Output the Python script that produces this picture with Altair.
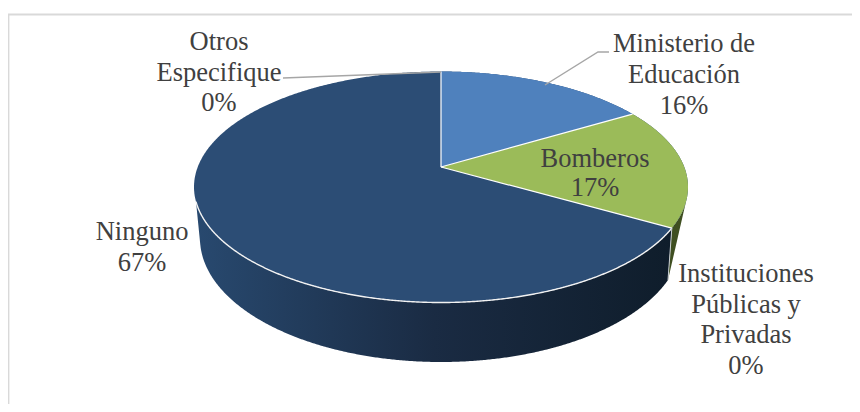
import math
import numpy as np
import pandas as pd
import altair as alt

categories = ["Ministerio de Educación", "Bomberos", "Instituciones Públicas y Privadas", "Ninguno", "Otros Especifique"]
shares = [16.4, 16.9, 0, 66.7, 0]
label_lines = [
    ["Ministerio de", "Educación", "16%"],
    ["Bomberos", "17%"],
    ["Instituciones", "Públicas y", "Privadas", "0%"],
    ["Ninguno", "67%"],
    ["Otros", "Especifique", "0%"],
]
label_x = [684, 595, 746, 142, 219]
label_y = [44, 159, 274, 232, 42]
label_step = [31, 29, 30.6, 31, 30.5]

BLUE, GREEN, NAVY = "#4f81bd", "#9bbb59", "#2c4d75"
TEXT, LEAD, FRAME = "#404040", "#a6a6a6", "#d9d9d9"
FONT = "Liberation Serif"

# Perspective view of the pie's top and of its lower rim
cx, cy_pie = 441.0, 167.0
cy_top, a_top, b_top = 187.0, 247.0, 115.5
cy_bot, a_bot, b_bot = 238.5, 241.0, 123.5
k = 40 / 231
b_p = 95.5 * (1 + k)
a_p = a_top * math.sqrt(1 - k * k)


def project(share_sum):
    t = 2 * math.pi * share_sum / 100
    w = 1 + k * math.cos(t)
    return cx + a_p * math.sin(t) / w, cy_pie - b_p * math.cos(t) / w


def top_up(x):
    return cy_top - b_top * np.sqrt(np.clip(1 - ((x - cx) / a_top) ** 2, 0, 1))


def top_lo(x):
    return cy_top + b_top * np.sqrt(np.clip(1 - ((x - cx) / a_top) ** 2, 0, 1))


def bot_lo(x):
    return cy_bot + b_bot * np.sqrt(np.clip(1 - ((x - cx) / a_bot) ** 2, 0, 1))


X = alt.X("x:Q", axis=None, scale=alt.Scale(domain=[8, 852], nice=False, zero=False))
Y = alt.Y("y:Q", axis=None, scale=alt.Scale(domain=[404, 8], nice=False, zero=False))


def area(df, **kw):
    return alt.Chart(df).mark_area(**kw).encode(x=X, y=Y, y2="y2:Q")


def line(xs, ys, color, width):
    df = pd.DataFrame({"x": xs, "y": ys, "o": range(len(xs))})
    return alt.Chart(df).mark_line(color=color, strokeWidth=width).encode(
        x=X, y=Y, order="o:Q")


sweep = np.linspace(-math.pi / 2, math.pi / 2, 500)
grid = cx + a_top * np.sin(sweep)

p1 = project(shares[0])
p2 = project(shares[0] + shares[1])
seam_bot_x = 668.0
seam_bot_y = float(bot_lo(np.array(seam_bot_x)))
edge_x, edge_y = 686.0, float(top_lo(np.array(686.0)))
left_x = 196.0
left_y = float(top_lo(np.array(left_x)))
left_bot_x = cx - a_bot + 0.3
left_bot_y = float(bot_lo(np.array(left_bot_x)))


def seam_y(x):
    return p2[1] + (x - p2[0]) / (seam_bot_x - p2[0]) * (seam_bot_y - p2[1])


# Side wall of the navy slice
xw = np.unique(np.concatenate([grid[(grid >= left_x) & (grid <= p2[0])], [left_x, left_bot_x, seam_bot_x, p2[0]]]))
y2w = np.where(
    xw <= left_bot_x,
    left_y + (xw - left_x) / (left_bot_x - left_x) * (left_bot_y - left_y),
    np.where(xw >= seam_bot_x, seam_y(xw), bot_lo(xw)),
)
wall_df = pd.DataFrame({"x": xw, "y": top_lo(xw), "y2": y2w})
wall = area(wall_df, color=alt.Gradient(
    gradient="linear", x1=0, x2=1, y1=0, y2=0,
    stops=[
        alt.GradientStop(offset=0, color="#28496f"),
        alt.GradientStop(offset=0.5, color="#1a2b43"),
        alt.GradientStop(offset=1, color="#0f1d2b"),
    ]))

# Side wall of the green slice
xg = np.unique(np.concatenate([grid[(grid >= seam_bot_x) & (grid <= edge_x)], [seam_bot_x, p2[0], edge_x]]))
y_up = np.where(xg <= p2[0], seam_y(xg), top_lo(xg))
y_low = seam_bot_y + (xg - seam_bot_x) / (edge_x - seam_bot_x) * (edge_y - seam_bot_y)
green_wall = area(pd.DataFrame({"x": xg, "y": y_up, "y2": y_low}), color="#3f4f21")

# Top faces
navy_top = area(pd.DataFrame({"x": grid, "y": top_up(grid), "y2": top_lo(grid)}), color=NAVY)

xb = np.unique(np.concatenate([grid[(grid >= cx) & (grid <= p1[0])], [cx, p1[0]]]))
blue_top = area(pd.DataFrame({
    "x": xb, "y": top_up(xb),
    "y2": cy_pie + (xb - cx) / (p1[0] - cx) * (p1[1] - cy_pie),
}), color=BLUE)

xv = np.unique(np.concatenate([grid[grid >= cx], [cx, p1[0], p2[0]]]))
green_top = area(pd.DataFrame({
    "x": xv,
    "y": np.where(xv <= p1[0], cy_pie + (xv - cx) / (p1[0] - cx) * (p1[1] - cy_pie), top_up(xv)),
    "y2": np.where(xv <= p2[0], cy_pie + (xv - cx) / (p2[0] - cx) * (p2[1] - cy_pie), top_lo(xv)),
}), color=GREEN)

# White seams
xr = np.unique(np.concatenate([grid[(grid >= left_x) & (grid <= p2[0])], [left_x, p2[0]]]))
rim = line(xr, top_lo(xr), "#f2f2f2", 1.4)
seams = [
    line([cx, cx], [top_up(np.array(cx)), cy_pie], "#ffffff", 1.2),
    line([cx, p1[0]], [cy_pie, p1[1]], "#ffffff", 1.2),
    line([cx, p2[0]], [cy_pie, p2[1]], "#ffffff", 1.2),
    line([p2[0], seam_bot_x], [p2[1], seam_bot_y], "#c9ced3", 1.0),
]

# Leader lines and frame
leaders = [
    line([545, 598, 609], [85, 52, 52], LEAD, 1.4),
    line([283, 441], [78, 72], LEAD, 1.4),
]
frame = line([8.4, 8.4, 852], [404, 14.5, 14.5], FRAME, 2)

# Labels
rows = []
for name_lines, lx, ly, st in zip(label_lines, label_x, label_y, label_step):
    for i, t in enumerate(name_lines):
        rows.append({"x": lx, "y": ly + i * st, "t": t})
labels = alt.Chart(pd.DataFrame(rows)).mark_text(
    font=FONT, fontSize=26.5, color=TEXT, align="center", baseline="middle"
).encode(x=X, y=Y, text="t:N")

chart = alt.layer(
    frame, wall, green_wall, navy_top, blue_top, green_top, rim, *seams, *leaders, labels
).properties(
    width=844, height=396, padding=0, autosize=alt.AutoSizeParams(type="none"),
    background="#ffffff",
).configure_view(stroke=None)

chart.save("out.html", embed_options={"renderer": "svg", "actions": False})
